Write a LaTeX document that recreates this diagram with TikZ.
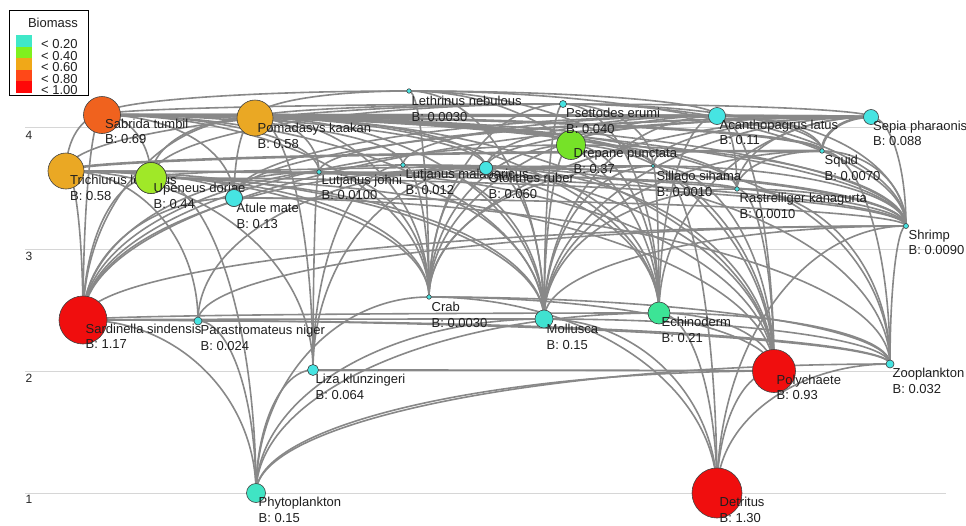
\documentclass[tikz,border=0pt]{standalone}
\usepackage{fontspec}
\setmainfont{Liberation Sans}
\usetikzlibrary{calc,backgrounds}
\definecolor{edgegray}{RGB}{136,136,136}
\definecolor{gridgray}{RGB}{214,214,214}
\definecolor{ccyan}{RGB}{70,228,226}
\definecolor{cphyto}{RGB}{64,228,196}
\definecolor{cmoll}{RGB}{64,226,208}
\definecolor{cechi}{RGB}{60,228,150}
\definecolor{clime}{RGB}{160,232,40}
\definecolor{cgreen}{RGB}{118,226,40}
\definecolor{camber}{RGB}{234,168,36}
\definecolor{cored}{RGB}{240,98,30}
\definecolor{cred}{RGB}{240,14,14}
\definecolor{lg1}{RGB}{64,232,200}
\definecolor{lg2}{RGB}{128,240,30}
\definecolor{lg3}{RGB}{240,168,24}
\definecolor{lg4}{RGB}{255,72,24}
\definecolor{lg5}{RGB}{255,8,8}
\newcommand\fwedge[2]{\draw[fwline] (#1.center) .. controls ($(#1)!0.552!(#1|-#2)$) and ($(#2)!0.552!(#1|-#2)$) .. (#2.center);}
\newcommand\fwedgeT[2]{\draw[fwline, line width=2.6pt] (#1.center) .. controls ($(#1)!0.552!(#1|-#2)$) and ($(#2)!0.552!(#1|-#2)$) .. (#2.center);}
\tikzset{
  fwn/.style={circle, draw=black!75, line width=0.6pt, inner sep=0pt},
  lbl/.style={anchor=north west, inner sep=0pt, align=left, font=\fontsize{13}{15.5}\selectfont, text=black!88},
  fwline/.style={draw=edgegray, line width=1.6pt},
  gridl/.style={draw=gridgray, line width=1pt},
  axnum/.style={inner sep=0pt, font=\fontsize{12}{14}\selectfont, text=black!85},
}
\begin{document}
\begin{tikzpicture}[x=1pt,y=-1pt]
\useasboundingbox (0,0) rectangle (966,525);
% ---- nodes (drawn in order, labels after own circle)
\node[fwn, fill=cred, minimum size=50pt] (det) at (717,493) {};
\node[fwn, fill=cphyto, minimum size=19pt] (phy) at (256,493) {};
\node[fwn, fill=cred, minimum size=43pt] (pol) at (774,371) {};
\node[fwn, fill=ccyan, minimum size=8pt] (zoo) at (890,364) {};
\node[fwn, fill=ccyan, minimum size=11pt] (liz) at (313,370) {};
\node[fwn, fill=ccyan, minimum size=8pt] (par) at (198,321) {};
\node[fwn, fill=cred, minimum size=48pt] (sar) at (83,320) {};
\node[fwn, fill=cmoll, minimum size=18pt] (mol) at (544,319) {};
\node[fwn, fill=cechi, minimum size=22pt] (ech) at (659,313) {};
\node[fwn, fill=ccyan, minimum size=4.5pt] (crb) at (429,297) {};
\node[fwn, fill=ccyan, minimum size=5pt] (shr) at (906,226) {};
\node[fwn, fill=ccyan, minimum size=17pt] (atu) at (234,198) {};
\node[fwn, fill=ccyan, minimum size=4.5pt] (ras) at (737,189) {};
\node[fwn, fill=camber, minimum size=36pt] (tri) at (66,171) {};
\node[fwn, fill=clime, minimum size=31pt] (upe) at (151,178) {};
\node[fwn, fill=ccyan, minimum size=4.5pt] (ljo) at (319,172) {};
\node[fwn, fill=ccyan, minimum size=4.5pt] (lma) at (403,165) {};
\node[fwn, fill=ccyan, minimum size=13pt] (oto) at (486,168) {};
\node[fwn, fill=ccyan, minimum size=3.5pt] (sil) at (653,166) {};
\node[fwn, fill=ccyan, minimum size=4.5pt] (squ) at (822,151) {};
\node[fwn, fill=cgreen, minimum size=29pt] (dre) at (571,145) {};
\node[fwn, fill=ccyan, minimum size=17pt] (aca) at (717,116) {};
\node[fwn, fill=ccyan, minimum size=15pt] (sep) at (871,117) {};
\node[fwn, fill=ccyan, minimum size=7pt] (pse) at (563,104) {};
\node[fwn, fill=ccyan, minimum size=4.5pt] (let) at (409,91) {};
\node[fwn, fill=camber, minimum size=36pt] (pom) at (255,118) {};
\node[fwn, fill=cored, minimum size=37pt] (sab) at (102,115) {};
% ---- labels
\node[lbl] (detL) at ($(det)+(2.5,4.3)$) {Detritus\\B: 1.30};
\node[lbl] (phyL) at ($(phy)+(2.5,4.3)$) {Phytoplankton\\B: 0.15};
\node[lbl] (polL) at ($(pol)+(2.5,3.5)$) {Polychaete\\B: 0.93};
\node[lbl] (zooL) at ($(zoo)+(2.5,4.3)$) {Zooplankton\\B: 0.032};
\node[lbl] (lizL) at ($(liz)+(2.5,4.3)$) {Liza klunzingeri\\B: 0.064};
\node[lbl] (sarL) at ($(sar)+(2.5,3.5)$) {Sardinella sindensis\\B: 1.17};
\node[lbl] (parL) at ($(par)+(2.5,4.3)$) {Parastromateus niger\\B: 0.024};
\node[lbl] (molL) at ($(mol)+(2.5,5)$) {Mollusca\\B: 0.15};
\node[lbl] (echL) at ($(ech)+(2.5,4.3)$) {Echinoderm\\B: 0.21};
\node[lbl] (crbL) at ($(crb)+(2.5,5)$) {Crab\\B: 0.0030};
\node[lbl] (shrL) at ($(shr)+(2.5,3.5)$) {Shrimp\\B: 0.0090};
\node[lbl] (rasL) at ($(ras)+(2.5,4.3)$) {Rastrelliger kanagurta\\B: 0.0010};
\node[lbl] (triL) at ($(tri)+(4,4.3)$) {Trichiurus lepturus\\B: 0.58};
\node[fwn, fill=clime, minimum size=31pt] (upe2) at (upe) {};
\node[lbl] (upeL) at ($(upe)+(2.5,5)$) {Upeneus doriae\\B: 0.44};
\node[fwn, fill=ccyan, minimum size=17pt] (atu2) at (atu) {};
\node[lbl] (atuL) at ($(atu)+(2.5,5)$) {Atule mate\\B: 0.13};
\node[lbl] (ljoL) at ($(ljo)+(2.5,2.5)$) {Lutjanus johni\\B: 0.0100};
\node[lbl] (lmaL) at ($(lma)+(2.5,4.3)$) {Lutjanus malabaricus\\B: 0.012};
\node[fwn, fill=ccyan, minimum size=13pt] (oto2) at (oto) {};
\node[lbl] (otoL) at ($(oto)+(2.5,5)$) {Otolithes ruber\\B: 0.060};
\node[lbl] (silL) at ($(sil)+(3.5,5)$) {Sillago sihama\\B: 0.0010};
\node[lbl] (squL) at ($(squ)+(2.5,4.3)$) {Squid\\B: 0.0070};
\node[lbl] (dreL) at ($(dre)+(2.5,3.5)$) {Drepane punctata\\B: 0.37};
\node[lbl] (acaL) at ($(aca)+(2.5,3.5)$) {Acanthopagrus latus\\B: 0.11};
\node[lbl] (sepL) at ($(sep)+(2,3.5)$) {Sepia pharaonis\\B: 0.088};
\node[lbl] (pseL) at ($(pse)+(3,4.3)$) {Psettodes erumi\\B: 0.040};
\node[lbl] (letL) at ($(let)+(2.5,5)$) {Lethrinus nebulous\\B: 0.0030};
\node[lbl] (pomL) at ($(pom)+(2.5,5)$) {Pomadasys kaakan\\B: 0.58};
\node[lbl] (sabL) at ($(sab)+(3,3.5)$) {Sabrida tumbil\\B: 0.69};
% ---- axis numbers
\node[axnum] (ax4) at (29,135) {4};
\node[axnum] (ax3) at (29,256) {3};
\node[axnum] (ax2) at (29,378) {2};
\node[axnum] (ax1) at (29,499) {1};
% ---- legend
\node[draw=black, line width=0.8pt, fill=white, anchor=north west, minimum width=79pt, minimum height=85pt, inner sep=0pt] (legbox) at (9,10) {};
\node[inner sep=0pt, font=\fontsize{13}{15}\selectfont, text=black!88] (legt) at (53,23) {Biomass};
\fill[lg1] (16,35) rectangle (32,46.5);
\fill[lg2] (16,46.5) rectangle (32,58);
\fill[lg3] (16,58) rectangle (32,69.5);
\fill[lg4] (16,69.5) rectangle (32,81);
\fill[lg5] (16,81) rectangle (32,93);
\begin{scope}
\clip (9,10) rectangle (88,95);
\node[anchor=north west, inner sep=0pt, align=left, font=\fontsize{13}{11.5}\selectfont, text=black!88] (legv) at (41,39.3) {< 0.20\\< 0.40\\< 0.60\\< 0.80\\< 1.00};
\end{scope}
\draw[black, line width=0.8pt] (legbox.north west) rectangle (legbox.south east);
% ---- edges
\begin{pgfonlayer}{background}
\fill[white] (0,0) rectangle (966,525);
\draw[gridl] (25,127) -- (946,127);
\draw[gridl] (25,249) -- (946,249);
\draw[gridl] (25,371) -- (946,371);
\draw[gridl] (25,493) -- (946,493);
% phytoplankton
\fwedge{phy}{sar}\fwedge{phy}{par}\fwedge{phy}{upe}\fwedge{phy}{liz}\fwedge{phy}{crb}
\fwedge{phy}{mol}\fwedge{phy}{ech}\fwedge{phy}{pol}\fwedge{phy}{zoo}
% detritus
\fwedge{det}{crb}\fwedge{det}{mol}\fwedge{det}{ech}\fwedge{det}{pol}\fwedge{det}{zoo}
\fwedge{det}{shr}\fwedge{det}{sil}
% polychaete
\fwedge{pol}{upe}\fwedge{pol}{pom}\fwedge{pol}{let}\fwedge{pol}{ljo}\fwedge{pol}{lma}
\fwedge{pol}{dre}\fwedge{pol}{aca}\fwedge{pol}{sil}\fwedge{pol}{oto}\fwedge{pol}{crb}
\fwedge{pol}{ech}\fwedge{pol}{liz}\fwedge{pol}{ras}
% liza
\fwedge{liz}{ljo}\fwedge{liz}{lma}\fwedge{liz}{pom}\fwedge{liz}{oto}\fwedge{liz}{tri}
% zooplankton
\fwedge{zoo}{sar}\fwedge{zoo}{par}\fwedge{zoo}{atu}\fwedge{zoo}{ras}\fwedge{zoo}{squ}
\fwedge{zoo}{shr}\fwedge{zoo}{sil}\fwedge{zoo}{mol}\fwedge{zoo}{ech}\fwedge{zoo}{crb}
\fwedge{zoo}{oto}
% parastromateus
\fwedge{par}{tri}\fwedge{par}{oto}\fwedge{par}{sar}\fwedge{par}{shr}
% sardinella
\fwedge{sar}{sab}\fwedge{sar}{tri}\fwedge{sar}{pom}\fwedge{sar}{upe}\fwedge{sar}{atu}
\fwedge{sar}{ljo}\fwedge{sar}{lma}\fwedge{sar}{oto}\fwedge{sar}{dre}\fwedge{sar}{sep}
\fwedge{sar}{mol}\fwedge{sar}{ech}\fwedge{sar}{shr}
% mollusca
\fwedge{mol}{sab}\fwedge{mol}{tri}\fwedge{mol}{pom}\fwedge{mol}{upe}\fwedge{mol}{ljo}
\fwedge{mol}{let}\fwedge{mol}{lma}\fwedge{mol}{oto}\fwedge{mol}{pse}\fwedge{mol}{dre}
\fwedge{mol}{aca}\fwedge{mol}{sil}\fwedge{mol}{ras}\fwedge{mol}{sep}\fwedge{mol}{squ}
\fwedge{mol}{shr}
% echinoderm
\fwedge{ech}{pom}\fwedge{ech}{let}\fwedge{ech}{lma}\fwedge{ech}{oto}\fwedge{ech}{pse}
\fwedge{ech}{dre}\fwedge{ech}{aca}\fwedge{ech}{sil}\fwedge{ech}{sep}
% crab
\fwedge{crb}{sab}\fwedge{crb}{tri}\fwedge{crb}{pom}\fwedge{crb}{upe}\fwedge{crb}{ljo}
\fwedge{crb}{let}\fwedge{crb}{lma}\fwedge{crb}{oto}\fwedge{crb}{pse}\fwedge{crb}{dre}
\fwedge{crb}{aca}\fwedge{crb}{sil}\fwedge{crb}{sep}
% shrimp
\fwedge{shr}{sab}\fwedge{shr}{tri}\fwedge{shr}{pom}\fwedge{shr}{upe}\fwedge{shr}{atu}
\fwedge{shr}{ljo}\fwedge{shr}{let}\fwedge{shr}{lma}\fwedge{shr}{oto}\fwedge{shr}{pse}
\fwedge{shr}{dre}\fwedge{shr}{aca}\fwedge{shr}{sep}\fwedge{shr}{squ}\fwedge{shr}{sil}
\fwedge{shr}{ras}
% fish prey
\fwedge{atu}{sab}\fwedge{atu}{tri}\fwedge{atu}{pom}\fwedge{atu}{aca}\fwedge{atu}{sep}
\fwedge{ras}{sab}\fwedge{ras}{tri}\fwedge{ras}{pom}\fwedge{ras}{aca}\fwedge{ras}{sep}\fwedge{ras}{squ}
\fwedge{upe}{sab}\fwedge{upe}{tri}\fwedge{upe}{pom}\fwedge{upe}{pse}\fwedge{upe}{sil}
\fwedge{ljo}{sab}\fwedge{ljo}{pom}\fwedge{ljo}{sep}
\fwedge{tri}{sab}\fwedge{tri}{pse}\fwedgeT{tri}{squ}
\fwedge{oto}{sab}\fwedge{oto}{pom}\fwedge{oto}{aca}\fwedge{oto}{sep}
\fwedge{sil}{sab}\fwedge{sil}{pom}\fwedge{sil}{sep}\fwedge{sil}{pse}
\fwedge{lma}{sab}\fwedge{lma}{aca}
\fwedgeT{squ}{sab}\fwedge{squ}{pom}\fwedge{squ}{aca}\fwedgeT{squ}{sep}\fwedge{squ}{pse}
\fwedge{dre}{sab}\fwedge{dre}{pom}\fwedge{dre}{sep}
\fwedge{pom}{sab}\fwedge{pom}{aca}\fwedge{pom}{pse}\fwedge{pom}{let}
\fwedgeT{sep}{sab}\fwedgeT{sep}{aca}\fwedge{sep}{pse}
\fwedgeT{aca}{sab}\fwedge{aca}{let}
\fwedge{sab}{pse}\fwedge{sab}{let}
\end{pgfonlayer}
\end{tikzpicture}
\end{document}
